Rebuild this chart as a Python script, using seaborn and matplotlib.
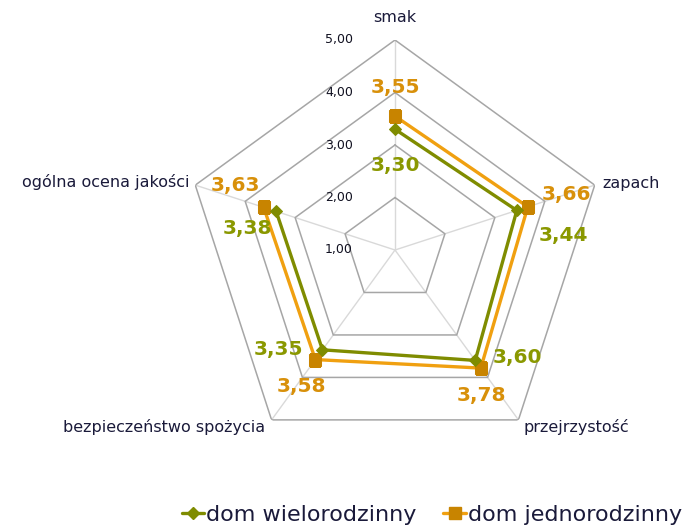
import numpy as np
import matplotlib
matplotlib.use("Agg")
import matplotlib.pyplot as plt
import seaborn as sns

# data
categories = ["smak", "zapach", "przejrzystość", "bezpieczeństwo spożycia", "ogólna ocena jakości"]
wielo = [3.30, 3.44, 3.60, 3.35, 3.38]
jedno = [3.55, 3.66, 3.78, 3.58, 3.63]
ring_values = [1, 2, 3, 4, 5]
series_names = ["dom wielorodzinny", "dom jednorodzinny"]

sns.set_style("white")
plt.rcParams["font.family"] = ["DejaVu Sans"]

GREEN = "#7f8c00"
GREEN_TXT = "#8a9800"
ORANGE = "#f0a010"
ORANGE_MK = "#c88400"
ORANGE_TXT = "#d8900a"

n = len(categories)
theta = np.arange(n) * 2 * np.pi / n
theta_c = np.append(theta, theta[0])

fig = plt.figure(figsize=(6.84, 5.26), dpi=100)
ax = fig.add_axes([185 / 684, 66 / 526, 420 / 684, 420 / 526], polar=True)
ax.set_theta_offset(np.pi / 2)
ax.set_theta_direction(-1)
ax.set_ylim(1, 5)
ax.grid(False)
ax.set_xticks([])
ax.set_yticks([])
ax.spines["polar"].set_visible(False)
ax.patch.set_alpha(0)

# pentagon grid
for t in theta:
    ax.plot([t, t], [1, 5], color="#d9d9d9", lw=1, zorder=1)
for r in ring_values[1:]:
    ax.plot(theta_c, [r] * (n + 1), color="#a6a6a6", lw=1.1, zorder=1)

# tick labels
for r in ring_values:
    ax.annotate(f"{r:.2f}".replace(".", ","), xy=(0, r), xytext=(-42, 0),
                textcoords="offset pixels", ha="right", va="center",
                fontsize=9, color="#101020")

# category labels
cat_off = [(0, 22, "center"), (8, 2, "left"), (5, -7, "left"), (-6, -7, "right"), (-6, 3, "right")]
for t, lab, (dx, dy, ha) in zip(theta, categories, cat_off):
    ax.annotate(lab, xy=(t, 5), xytext=(dx, dy), textcoords="offset pixels",
                ha=ha, va="center", fontsize=11.5, color="#1a1a3a")

# series
sns.lineplot(x=theta_c, y=np.append(wielo, wielo[0]), sort=False, ax=ax,
             color=GREEN, lw=2.4, marker="D", markersize=6, markeredgecolor=GREEN,
             label=series_names[0], zorder=4, legend=False)
sns.lineplot(x=theta_c, y=np.append(jedno, jedno[0]), sort=False, ax=ax,
             color=ORANGE, lw=2.4, marker="s", markersize=9,
             markerfacecolor=ORANGE_MK, markeredgecolor=ORANGE_MK,
             label=series_names[1], zorder=3, legend=False)

# data labels
green_off = [(0, -36), (47, -25), (42, 3), (-44, 0), (-29, -17)]
orange_off = [(0, 29), (39, 12), (1, -27), (-14, -27), (-28, 22)]
for t, v, (dx, dy) in zip(theta, wielo, green_off):
    ax.annotate(f"{v:.2f}".replace(".", ","), xy=(t, v), xytext=(dx, dy),
                textcoords="offset pixels", ha="center", va="center",
                fontsize=14.5, fontweight="bold", color=GREEN_TXT, zorder=6)
for t, v, (dx, dy) in zip(theta, jedno, orange_off):
    ax.annotate(f"{v:.2f}".replace(".", ","), xy=(t, v), xytext=(dx, dy),
                textcoords="offset pixels", ha="center", va="center",
                fontsize=14.5, fontweight="bold", color=ORANGE_TXT, zorder=6)

handles = [
    plt.Line2D([], [], color=GREEN, lw=2.4, marker="D", markersize=6),
    plt.Line2D([], [], color=ORANGE, lw=2.4, marker="s", markersize=9,
               markerfacecolor=ORANGE_MK, markeredgecolor=ORANGE_MK),
]
fig.legend(handles, series_names, loc="center", bbox_to_anchor=(432 / 684, 1 - 515 / 526),
           ncol=2, frameon=False, fontsize=16, handlelength=1.0, handletextpad=0.1,
           columnspacing=1.2, labelcolor="#1a1a3a")

fig.savefig("out.png", dpi=100)
